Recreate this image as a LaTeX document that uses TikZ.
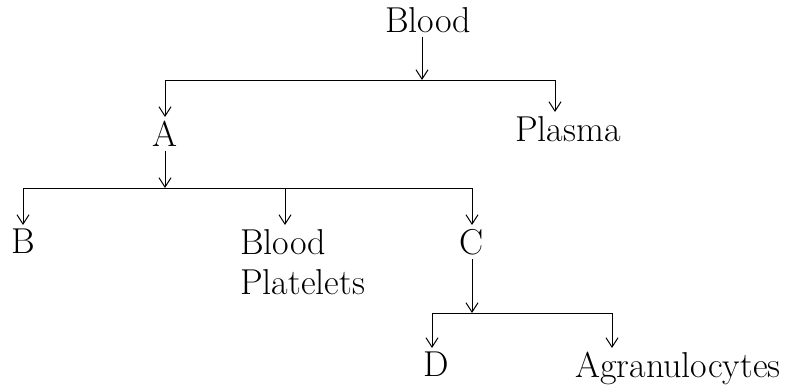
\documentclass[tikz,border=0pt]{standalone}
\usepackage{tikz}
\usetikzlibrary{arrows.meta,calc}
\tikzset{lbl/.style={inner sep=3pt,font=\fontsize{27}{30}\selectfont},
 arr/.style={-{Straight Barb[length=7pt,width=9pt]},line width=0.75pt}}

\begin{document}
\begin{tikzpicture}[x=0.75pt,y=-0.75pt]
\useasboundingbox (0,0) rectangle (804,389);
\node[lbl,anchor=north] (blood) at (428,3) {Blood};
\node[lbl,anchor=north] (a) at (165,117) {A};
\node[lbl,anchor=north west] (plasma) at (511,112) {Plasma};
\node[lbl,anchor=north] (b) at (23,225) {B};
\node[lbl,anchor=north west,align=left] (platelets) at (236,225) {Blood\\Platelets};
\node[lbl,anchor=north] (c) at (472,225) {C};
\node[lbl,anchor=north] (d) at (436,348) {D};
\node[lbl,anchor=north west] (agran) at (571,348) {Agranulocytes};
% branch points
\coordinate (j1) at (422,80);
\coordinate (j2) at (165,188);
\coordinate (j3) at (472,313);
\draw[arr] ([xshift=-4.5pt]blood.south) -- (j1);
\draw[arr] (j1) -| (a.north);
\draw[arr] (j1) -| ($(plasma.north west)+(44,0)$);
\draw[arr] (a.south) -- (j2);
\draw[arr] (j2) -| (b.north);
\draw[arr] (j2) -| ($(platelets.north west)+(49,0)$);
\draw[arr] (j2) -| (c.north);
\draw[arr] (c.south) -- (j3);
\draw[arr] (j3) -| ([xshift=-3pt]d.north);
\draw[arr] (j3) -| ($(agran.north west)+(41,0)$);
\end{tikzpicture}
\end{document}
